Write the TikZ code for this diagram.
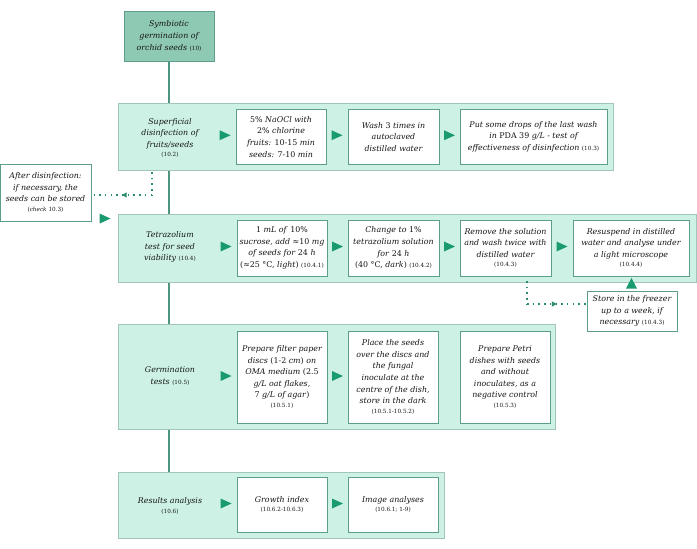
\documentclass[tikz,border=0pt]{standalone}
\usepackage{fontspec}
\setmainfont{DejaVu Serif}
\usetikzlibrary{calc,backgrounds,arrows.meta,decorations.markings}
\definecolor{bandfill}{HTML}{CDF2E5}
\definecolor{bandline}{HTML}{A3C6BA}
\definecolor{boxline}{HTML}{5C9E89}
\definecolor{headfill}{HTML}{8EC9B4}
\definecolor{headline}{HTML}{5E9E88}
\definecolor{linecol}{HTML}{4D9580}
\definecolor{dotcol}{HTML}{2F8D6F}
\definecolor{trifill}{HTML}{1A9A70}
\definecolor{ink}{HTML}{151515}
\newcommand{\boxfont}{\itshape\fontsize{7.9}{11.6}\selectfont}
\newcommand{\refn}[1]{{\upshape\fontsize{5.7}{6}\selectfont(#1)}}
\newcommand{\nm}[1]{\textup{#1}}
\newcommand{\trir}[1]{\fill[tri] (#1) +(-5.5,-5) -- +(5.5,0) -- +(-5.5,5) -- cycle;}
\newcommand{\triu}[1]{\fill[tri] (#1) +(-5.5,5) -- +(0,-5.5) -- +(5.5,5) -- cycle;}
\begin{document}
\begin{tikzpicture}[x=1pt,y=-1pt,
  every node/.style={font=\boxfont, align=center, inner sep=0pt, text=ink},
  band/.style={draw=bandline, fill=bandfill, line width=0.9pt},
  stepbox/.style={draw=boxline, fill=white, line width=0.9pt},
  headbox/.style={draw=headline, fill=headfill, line width=0.9pt},
  mainline/.style={draw=linecol, line width=1.8pt},
  dotline/.style={draw=dotcol, line width=1.5pt, dash pattern=on 1.5pt off 4.2pt},
  midarr/.style={postaction={decorate}, decoration={markings,
    mark=at position 0.5 with {\arrow{Triangle[length=5pt,width=5pt]}}}},
  tri/.style={fill=trifill}]
\useasboundingbox (0,0) rectangle (697,549);
\node[headbox, minimum width=90, minimum height=50] (top) at (169,36) {Symbiotic\\ germination of\\ orchid seeds \refn{10}};
\node[band, minimum width=495, minimum height=67] (b1) at (365.5,136.5) {};
\node (l1) at (170,138) {Superficial\\ disinfection of\\ fruits/seeds\\[-2pt] \refn{10.2}};
\node[stepbox, minimum width=90, minimum height=54.5] (d1) at (281,136.75) {\nm{5\%} NaOCl with\\ \nm{2\%} chlorine\\ fruits: \nm{10-15} min\\ seeds: \nm{7-10} min};
\node[stepbox, minimum width=91, minimum height=54.5] (d2) at (393.5,136.75) {Wash \nm{3} times in\\ autoclaved\\ distilled water};
\node[stepbox, minimum width=147, minimum height=54.5] (d3) at (533.5,136.75) {Put some drops of the last wash\\ in \nm{PDA 39} g/L - test of\\ effectiveness of disinfection \refn{10.3}};
\node[stepbox, minimum width=91, minimum height=57] (note) at (45.5,192.5) {After disinfection:\\ if necessary, the\\ seeds can be stored\\[-2pt] \refn{\textit{check} 10.3}};
\node[band, minimum width=578, minimum height=67.5] (b2) at (407,248.25) {};
\node (l2) at (170,247) {Tetrazolium\\ test for seed\\ viability \refn{10.4}};
\node[stepbox, minimum width=90, minimum height=56] (t1) at (282,248) {\nm{1} mL of \nm{10\%}\\ sucrose, add \nm{≈10} mg\\ of seeds for \nm{24} h\\ \nm{(≈25 °C,} light\nm{)} \refn{10.4.1}};
\node[stepbox, minimum width=91, minimum height=56] (t2) at (393.5,248) {Change to \nm{1\%}\\ tetrazolium solution\\ for \nm{24} h\\ \nm{(40 °C,} dark\nm{)} \refn{10.4.2}};
\node[stepbox, minimum width=91, minimum height=56] (t3) at (505.5,248) {Remove the solution\\ and wash twice with\\ distilled water\\[-2pt] \refn{10.4.3}};
\node[stepbox, minimum width=116, minimum height=56] (t4) at (631,248) {Resuspend in distilled\\ water and analyse under\\ a light microscope\\[-2pt] \refn{10.4.4}};
\node[stepbox, minimum width=90, minimum height=40] (fz) at (632,311) {Store in the freezer\\ up to a week, if\\ necessary \refn{10.4.3}};
\node[band, minimum width=437, minimum height=105] (b3) at (336.5,376.5) {};
\node (l3) at (170,376) {Germination\\ tests \refn{10.5}};
\node[stepbox, minimum width=90, minimum height=92] (g1) at (282,377) {Prepare filter paper\\ discs \nm{(1-2} cm\nm{)} on\\ OMA medium \nm{(2.5}\\ g/L oat flakes,\\ \nm{7} g/L of agar\nm{)}\\[-2pt] \refn{10.5.1}};
\node[stepbox, minimum width=90, minimum height=92] (g2) at (393,377) {Place the seeds\\ over the discs and\\ the fungal\\ inoculate at the\\ centre of the dish,\\ store in the dark\\[-2pt] \refn{10.5.1-10.5.2}};
\node[stepbox, minimum width=90, minimum height=92] (g3) at (505,377) {Prepare Petri\\ dishes with seeds\\ and without\\ inoculates, as a\\ negative control\\[-2pt] \refn{10.5.3}};
\node[band, minimum width=326, minimum height=66] (b4) at (281,505) {};
\node (l4) at (170,506) {Results analysis\\[-2pt] \refn{10.6}};
\node[stepbox, minimum width=90, minimum height=55] (r1) at (282,504.5) {Growth index\\[-2pt] \refn{10.6.2-10.6.3}};
\node[stepbox, minimum width=90, minimum height=55] (r2) at (393,504.5) {Image analyses\\[-2pt] \refn{10.6.1; 1-9}};
\begin{scope}[on background layer]
\draw[mainline] (top.south) -- (top.south |- b4.north);
\end{scope}
\trir{$(d1.west)+(-10.5,-1.5)$}
\trir{$(d1.east)!0.5!(d2.west)+(0,-1.5)$}
\trir{$(d2.east)!0.5!(d3.west)+(0,-1.5)$}
\trir{$(t1.west)+(-10.5,-1.5)$}
\trir{$(t1.east)!0.5!(t2.west)+(0,-1.5)$}
\trir{$(t2.east)!0.5!(t3.west)+(0,-1.5)$}
\trir{$(t3.east)!0.5!(t4.west)+(0,-1.5)$}
\trir{$(g1.west)+(-10.5,-1)$}
\trir{$(g1.east)!0.5!(g2.west)+(0,-1)$}
\trir{$(r1.west)+(-10.5,-1)$}
\trir{$(r1.east)!0.5!(r2.west)+(0,-1)$}
\trir{$(b2.north west)+(-12.5,4.5)$}
\triu{$(t4.south)!0.5!(fz.north)$}
\coordinate (s1) at (152,172);
\coordinate (k1) at (152,195);
\draw[dotline] (s1) -- (k1);
\draw[dotline, midarr] (k1) -- (k1 -| note.east);
\coordinate (s2) at (527,281);
\coordinate (k2) at (527,304);
\draw[dotline] (s2) -- (k2);
\draw[dotline, midarr] (k2) -- (k2 -| fz.west);
\end{tikzpicture}
\end{document}
